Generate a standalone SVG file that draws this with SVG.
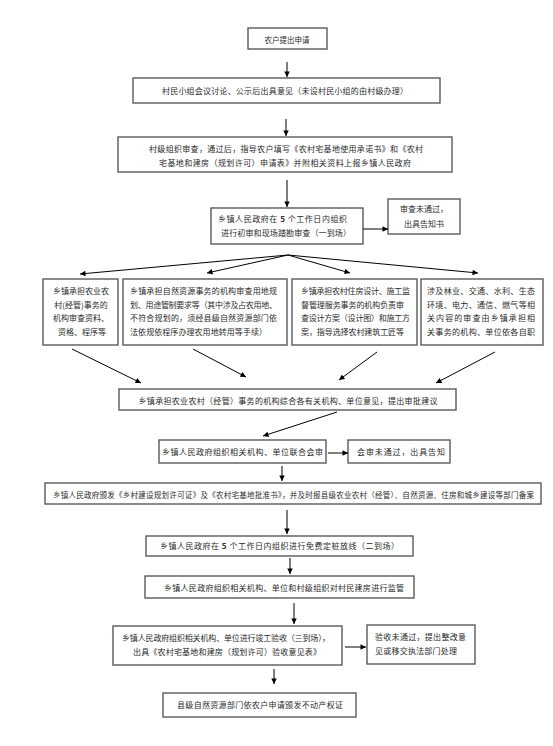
<svg xmlns="http://www.w3.org/2000/svg" width="553" height="746" viewBox="0 0 553 746">
<style>
.box{fill:#fff;stroke:#5a5a5a;stroke-width:1.4}
text{font-family:"Noto Sans CJK SC","Liberation Sans",sans-serif;font-size:8px;fill:#2a2a2a}
.c{text-anchor:middle}
.cn line{stroke:#000;stroke-width:1;marker-end:url(#ah)}
</style>
<defs>
<marker id="ah" viewBox="0 0 6 6" refX="6" refY="3" markerWidth="6" markerHeight="5.5" markerUnits="userSpaceOnUse" orient="auto">
<path d="M0,0 L6,3 L0,6 z" fill="#000"/>
</marker>
</defs>
<rect width="553" height="746" fill="#fff"/>

<g id="n1"><rect class="box" x="248" y="28" width="79" height="21"/><text class="c" x="287" y="42.5" style="font-size:7.5px">农户提出申请</text></g>
<g id="n2"><rect class="box" x="133" y="78" width="307" height="25"/><text class="c" x="285" y="94" textLength="246" lengthAdjust="spacing">村民小组会议讨论、公示后出具意见（未设村民小组的由村级办理）</text></g>
<g id="n3"><rect class="box" x="118" y="137" width="334" height="35"/>
<text x="149" y="152" textLength="274" lengthAdjust="spacing">村级组织审查，通过后，指导农户填写《农村宅基地使用承诺书》和《农村</text>
<text x="159" y="165.5" textLength="252" lengthAdjust="spacing">宅基地和建房（规划许可）申请表》并附相关资料上报乡镇人民政府</text></g>
<g id="n4"><rect class="box" x="211" y="208" width="152" height="36"/>
<text x="218" y="222" textLength="129" lengthAdjust="spacing">乡镇人民政府在 <tspan font-weight="bold">5</tspan> 个工作日内组织</text>
<text x="221" y="236" textLength="130" lengthAdjust="spacing">进行初审和现场踏勘审查（一到场）</text></g>
<g id="n5"><rect class="box" x="388" y="199" width="72" height="35"/>
<text x="400" y="212">审查未通过，</text>
<text x="404" y="227">出具告知书</text></g>

<g id="nA"><rect class="box" x="43" y="279" width="75" height="66"/>
<text class="c" x="81" y="294">乡镇承担农业农</text>
<text class="c" x="81" y="307.5">村(经管)事务的</text>
<text class="c" x="81" y="321">机构审查资料、</text>
<text class="c" x="82" y="334.5">资格、程序等</text></g>
<g id="nB"><rect class="box" x="123" y="279" width="164" height="66"/>
<text x="130" y="294" textLength="147" lengthAdjust="spacing">乡镇承担自然资源事务的机构审查用地规</text>
<text x="130" y="307.5" textLength="147" lengthAdjust="spacing">划、用途管制要求等（其中涉及占农用地、</text>
<text x="130" y="321" textLength="147" lengthAdjust="spacing">不符合规划的，须经县级自然资源部门依</text>
<text x="130" y="334.5" textLength="137" lengthAdjust="spacing">法依规依程序办理农用地转用等手续）</text></g>
<g id="nC"><rect class="box" x="292" y="279" width="125" height="66"/>
<text x="301" y="294" textLength="109" lengthAdjust="spacing">乡镇承担农村住房设计、施工监</text>
<text x="301" y="307.5" textLength="103" lengthAdjust="spacing">督管理服务事务的机构负责审</text>
<text x="301" y="321" textLength="109" lengthAdjust="spacing">查设计方案（设计图）和施工方</text>
<text x="301" y="334.5" textLength="103" lengthAdjust="spacing">案，指导选择农村建筑工匠等</text></g>
<g id="nD"><rect class="box" x="421" y="279" width="122" height="66"/>
<text x="427" y="294" textLength="108" lengthAdjust="spacing">涉及林业、交通、水利、生态</text>
<text x="427" y="307.5" textLength="108" lengthAdjust="spacing">环境、电力、通信、燃气等相</text>
<text x="427" y="321" textLength="108" lengthAdjust="spacing">关内容的审查由乡镇承担相</text>
<text x="427" y="334.5" textLength="108" lengthAdjust="spacing">关事务的机构、单位依各自职</text></g>

<g id="n6"><rect class="box" x="119" y="389" width="337" height="21"/><text class="c" x="288" y="403.5" textLength="299" lengthAdjust="spacing">乡镇承担农业农村（经管）事务的机构综合各有关机构、单位意见，提出审批建议</text></g>
<g id="n7"><rect class="box" x="159" y="440" width="167" height="23"/><text class="c" x="242.5" y="454.5" textLength="161" lengthAdjust="spacing">乡镇人民政府组织相关机构、单位联合会审</text></g>
<g id="n8"><rect class="box" x="348" y="440" width="102" height="23"/><text class="c" x="401" y="454.5" textLength="88" lengthAdjust="spacing">会审未通过，出具告知</text></g>
<g id="n9"><rect class="box" x="45" y="483" width="496" height="21"/><text class="c" x="293.5" y="497.5" style="font-size:7.5px" textLength="481" lengthAdjust="spacing">乡镇人民政府颁发《乡村建设规划许可证》及《农村宅基地批准书》，并及时报县级农业农村（经管）、自然资源、住房和城乡建设等部门备案</text></g>
<g id="n10"><rect class="box" x="146" y="536" width="267" height="20"/><text class="c" x="279.5" y="549" textLength="239" lengthAdjust="spacing">乡镇人民政府在 <tspan font-weight="bold">5</tspan> 个工作日内组织进行免费定桩放线（二到场）</text></g>
<g id="n11"><rect class="box" x="145" y="576" width="269" height="22"/><text class="c" x="284" y="590.5" textLength="240" lengthAdjust="spacing">乡镇人民政府组织相关机构、单位和村级组织对村民建房进行监管</text></g>
<g id="n12"><rect class="box" x="113" y="626" width="229" height="39"/>
<text x="122" y="641" textLength="208" lengthAdjust="spacing">乡镇人民政府组织相关机构、单位进行竣工验收（三到场），</text>
<text x="133" y="655" textLength="188" lengthAdjust="spacing">出具《农村宅基地和建房（规划许可）验收意见表》</text></g>
<g id="n13"><rect class="box" x="367" y="625" width="108" height="39"/>
<text x="375" y="640" textLength="91" lengthAdjust="spacing">验收未通过，提出整改意</text>
<text x="375" y="654" textLength="82" lengthAdjust="spacing">见或移交执法部门处理</text></g>
<g id="n14"><rect class="box" x="163" y="693" width="193" height="24"/><text class="c" x="260" y="708" textLength="166" lengthAdjust="spacing">县级自然资源部门依农户申请颁发不动产权证</text></g>

<g id="connectors" class="cn">
<line x1="287" y1="62" x2="287" y2="77"/>
<line x1="286" y1="119" x2="286" y2="136"/>
<line x1="287" y1="180" x2="287" y2="207"/>
<line x1="363" y1="229" x2="388" y2="229"/>
<line x1="288" y1="255" x2="80" y2="274"/>
<line x1="288" y1="255" x2="207" y2="273"/>
<line x1="288" y1="255" x2="350" y2="273"/>
<line x1="288" y1="255" x2="478" y2="273"/>
<line x1="72" y1="349" x2="141" y2="383"/>
<line x1="193" y1="349" x2="246" y2="377"/>
<line x1="377" y1="352" x2="339" y2="380"/>
<line x1="495" y1="352" x2="436" y2="383"/>
<line x1="337" y1="412" x2="263" y2="436"/>
<line x1="328" y1="453" x2="348" y2="453"/>
<line x1="282" y1="466" x2="282" y2="481"/>
<line x1="287" y1="510" x2="287" y2="534"/>
<line x1="290" y1="558" x2="290" y2="574"/>
<line x1="294" y1="603" x2="294" y2="624"/>
<line x1="345" y1="647" x2="366" y2="647"/>
<line x1="274" y1="669" x2="274" y2="684"/>
</g>
</svg>
